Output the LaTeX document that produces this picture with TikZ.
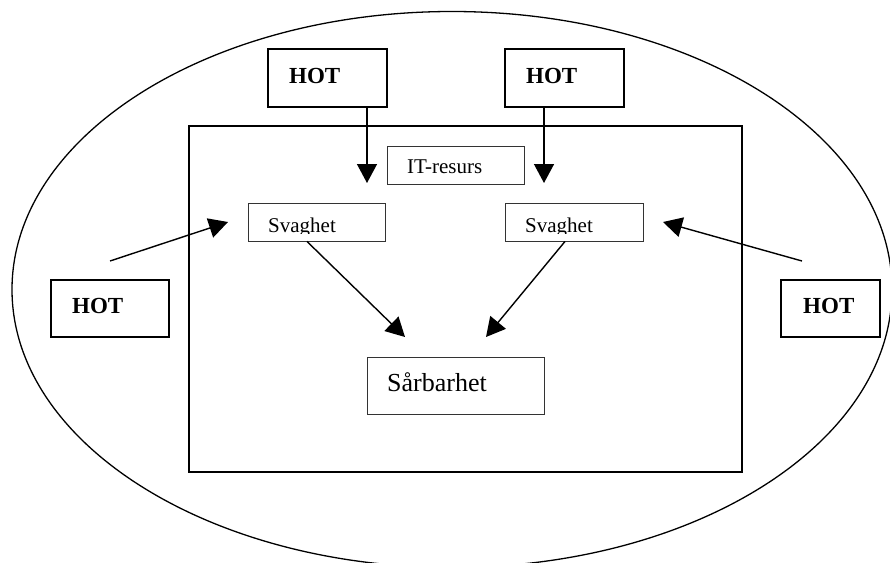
\documentclass[tikz,border=0pt]{standalone}
\usepackage{fontspec}
\setmainfont{Liberation Serif}
\usetikzlibrary{arrows.meta}
\begin{document}
\begin{tikzpicture}[x=1pt,y=-1pt,
  hotbox/.style={draw, line width=1.4pt, inner sep=0pt},
  thinbox/.style={draw=black!80, line width=0.9pt, inner sep=0pt},
  frame/.style={draw, line width=1.4pt, inner sep=0pt},
  lbl/.style={anchor=base west, inner sep=0pt, font=\fontsize{21}{21}\selectfont},
  biglbl/.style={anchor=base west, inner sep=0pt, font=\fontsize{26}{26}\selectfont},
  hotlbl/.style={anchor=base west, inner sep=0pt, font=\fontsize{23}{23}\selectfont\bfseries},
  arr/.style={-{Triangle[length=19pt,width=20pt]}, line width=1.4pt}]
\useasboundingbox (0,0) rectangle (890,562);
% outer ellipse
\begin{scope}
  \clip (0,0) rectangle (890,562);
  \draw[line width=1.3pt] (452,289.5) ellipse [x radius=440pt, y radius=278pt];
\end{scope}
% inner frame
\node[frame, minimum width=553pt, minimum height=346pt] (inner) at (465.5,299) {};
% HOT boxes
\node[hotbox, minimum width=119pt, minimum height=58pt] (h1) at (327.5,78) {};
\node[hotlbl] (h1t) at (289,83) {HOT};
\node[hotbox, minimum width=119pt, minimum height=58pt] (h2) at (564.5,78) {};
\node[hotlbl] (h2t) at (526,83) {HOT};
\node[hotbox, minimum width=118pt, minimum height=57pt] (h3) at (110,308.5) {};
\node[hotlbl] (h3t) at (72,313) {HOT};
\node[hotbox, minimum width=99pt, minimum height=57pt] (h4) at (830.5,308.5) {};
\node[hotlbl] (h4t) at (803,313) {HOT};
% thin boxes
\node[thinbox, minimum width=137pt, minimum height=38pt] (it) at (455.5,165) {};
\node[lbl] (itt) at (407,173) {IT-resurs};
\node[thinbox, minimum width=137pt, minimum height=38pt] (sv1) at (316.5,222) {};
\node[thinbox, minimum width=138pt, minimum height=38pt] (sv2) at (574,222) {};
\begin{scope}
  \clip (240,200) rectangle (650,233.5);
  \node[lbl] (sv1t) at (268,232) {Svaghet};
  \node[lbl] (sv2t) at (525,232) {Svaghet};
\end{scope}
\node[thinbox, minimum width=177pt, minimum height=57pt] (sar) at (455.5,385.5) {};
\node[biglbl] (sart) at (387,391) {Sårbarhet};
% arrows
\coordinate (t1) at (367,183);
\coordinate (t2) at (544,183);
\draw[arr] (h1.south -| t1) -- (t1);
\draw[arr] (h2.south -| t2) -- (t2);
\coordinate (s3) at (110,261);
\coordinate (t3) at (228,222);
\draw[arr] (s3) -- (t3);
\coordinate (s4) at (802,261);
\coordinate (t4) at (663,222);
\draw[arr] (s4) -- (t4);
\coordinate (s5) at (307,0);
\coordinate (t5) at (405,337);
\draw[arr] (sv1.south -| s5) -- (t5);
\coordinate (s6) at (565,0);
\coordinate (t6) at (486,337);
\draw[arr] (sv2.south -| s6) -- (t6);
\end{tikzpicture}
\end{document}
